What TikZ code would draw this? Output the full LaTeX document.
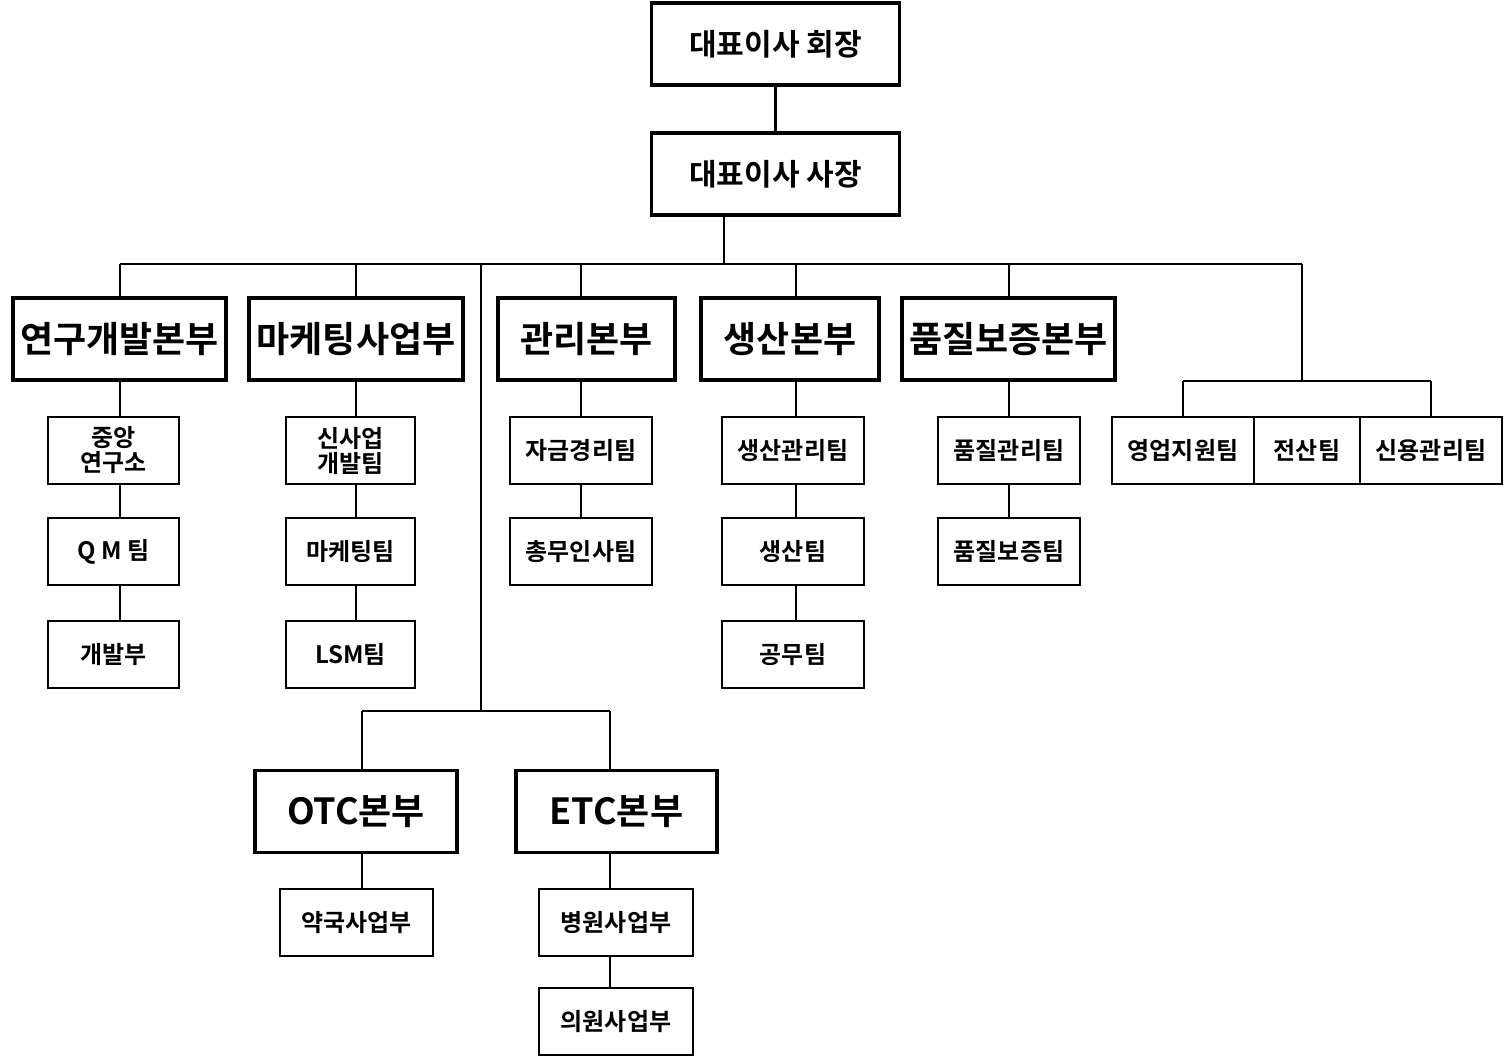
\documentclass[tikz,border=0pt]{standalone}
\usepackage{fontspec}
\setmainfont{Noto Sans CJK KR}[BoldFont={Noto Sans CJK KR Bold}]
\usetikzlibrary{calc}
\tikzset{
  bigbox/.style={draw, line width=1.6pt, minimum width=#1*0.5pt, minimum height=41pt, inner sep=0pt, font=\bfseries\fontsize{18}{20}\selectfont},
  topbox/.style={draw, line width=1.6pt, minimum width=124pt, minimum height=41pt, inner sep=0pt, font=\bfseries\fontsize{15}{18}\selectfont},
  smallbox/.style={draw, line width=1.1pt, minimum width=#1*0.5pt, minimum height=33.5pt, inner sep=0pt, align=center, font=\bfseries\fontsize{12}{13}\selectfont},
  link/.style={line width=1.1pt}
}
\begin{document}
\begin{tikzpicture}[x=0.5pt,y=-0.5pt]
		\useasboundingbox (0,0) rectangle (1509,1057);
		% top
		\node[topbox] (chair) at (775.5,44) {대표이사 회장};
		\node[topbox] (pres) at (775.5,174) {대표이사 사장};
		% divisions
		\node[bigbox=213] (rnd) at (119.5,339) {연구개발본부};
		\node[bigbox=214] (mkt) at (356,339) {마케팅사업부};
		\node[bigbox=177] (adm) at (586.5,339) {관리본부};
		\node[bigbox=178] (prod) at (790,339) {생산본부};
		\node[bigbox=213] (qa) at (1008.5,339) {품질보증본부};
		\node[bigbox=202] (otc) at (356,811.5) {OTC본부};
		\node[bigbox=201] (etc) at (616.5,811.5) {ETC본부};
		% teams
		\node[smallbox=131, font=\bfseries\fontsize{12}{12.5}\selectfont] (cen) at (113.5,450.5) {중앙\\연구소};
		\node[smallbox=131] (qm) at (113.5,551.5) {Q M 팀};
		\node[smallbox=131] (dev) at (113.5,654.5) {개발부};
		\node[smallbox=129, font=\bfseries\fontsize{12}{12.5}\selectfont] (newb) at (350.5,450.5) {신사업\\개발팀};
		\node[smallbox=129] (mktt) at (350.5,551.5) {마케팅팀};
		\node[smallbox=129] (lsm) at (350.5,654.5) {LSM팀};
		\node[smallbox=142] (fin) at (581,450.5) {자금경리팀};
		\node[smallbox=142] (hr) at (581,551.5) {총무인사팀};
		\node[smallbox=142] (pm) at (793,450.5) {생산관리팀};
		\node[smallbox=142] (pt) at (793,551.5) {생산팀};
		\node[smallbox=142] (eng) at (793,654.5) {공무팀};
		\node[smallbox=142] (qc) at (1009,450.5) {품질관리팀};
		\node[smallbox=142] (qat) at (1009,551.5) {품질보증팀};
		\node[smallbox=142] (sales) at (1183,450.5) {영업지원팀};
		\node[smallbox=106] (it) at (1307,450.5) {전산팀};
		\node[smallbox=142] (cred) at (1431,450.5) {신용관리팀};
		\node[smallbox=153] (phar) at (356.5,922.5) {약국사업부};
		\node[smallbox=154] (hosp) at (616,922.5) {병원사업부};
		\node[smallbox=154] (clin) at (616,1021.5) {의원사업부};
		% bus lines
		\coordinate (busl) at (120,264);
		\coordinate (busr) at (1302,264);
		\coordinate (spine) at (481,264);
		\coordinate (low) at (481,711);
		\draw[link] (chair) -- (pres);
		\draw[link] (pres.south -| 724,0) -- (724,264);
		\draw[link] (busl) -- (busr);
		\draw[link] (busl) -- (rnd.north -| busl);
		\foreach \n/\x in {mkt/356, adm/581, prod/796, qa/1009}
			\draw[link] (\x,264) -- (\n.north -| \x,0);
		\draw[link] (busr) -- (1302,381);
		\draw[link] (1183,381) -- (1431,381);
		\draw[link] (1183,381) -- (sales.north -| 1183,0);
		\draw[link] (1431,381) -- (cred.north -| 1431,0);
		\draw[link] (spine) -- (low);
		\draw[link] (362,711) -- (610,711);
		\draw[link] (362,711) -- (otc.north -| 362,0);
		\draw[link] (610,711) -- (etc.north -| 610,0);
		% team links
		\foreach \a/\b/\x in {rnd/cen/120, cen/qm/120, qm/dev/120, mkt/newb/356, newb/mktt/356, mktt/lsm/356,
			adm/fin/581, fin/hr/581, prod/pm/796, pm/pt/796, pt/eng/796, qa/qc/1009, qc/qat/1009,
			otc/phar/362, etc/hosp/610, hosp/clin/610}
			\draw[link] (\a.south -| \x,0) -- (\b.north -| \x,0);
\end{tikzpicture}
\end{document}
